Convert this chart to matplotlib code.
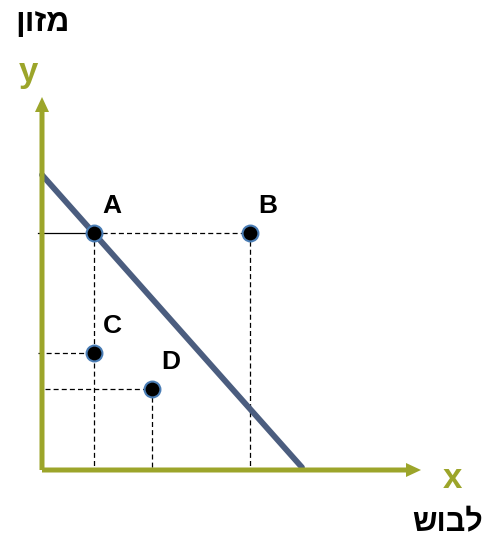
import matplotlib
matplotlib.use("Agg")
import matplotlib.pyplot as plt
from matplotlib.patches import FancyArrow

# Data (abstract units)
point_names = ["A", "B", "C", "D"]
point_x = [2.0, 8.0, 2.0, 4.25]
point_y = [9.1, 9.1, 4.5, 3.1]
budget_x = [0.0, 10.0]
budget_y = [11.35, 0.1]
y_label_text = "מזון"
x_label_text = "לבוש"

OLIVE = "#9ca52a"
LINE = "#4b5d7f"
FONT = ["Liberation Sans", "DejaVu Sans"]

fig = plt.figure(figsize=(4.89, 5.38), dpi=100)
ax = fig.add_axes([0, 0, 1, 1])
px = 26.0
ax.set_xlim(-42 / px, (489 - 42) / px)
ax.set_ylim(-(538 - 470) / px, 470 / px)
ax.axis("off")

# dashed guide lines
dash = dict(color="black", lw=0.9, ls=(0, (4, 2.5)), zorder=2)
xa, ya = point_x[0], point_y[0]
ax.plot([-0.15, xa], [ya, ya], color="black", lw=0.9, zorder=2)
ax.plot([xa, point_x[1]], [ya, point_y[1]], **dash)
ax.plot([xa, xa], [ya, 0], **dash)
ax.plot([point_x[1], point_x[1]], [point_y[1], 0], **dash)
ax.plot([-0.15, point_x[2]], [point_y[2], point_y[2]], **dash)
ax.plot([0.1, point_x[3]], [point_y[3], point_y[3]], **dash)
ax.plot([point_x[3], point_x[3]], [point_y[3], 0], **dash)

# budget line
ax.plot(budget_x, budget_y, color=LINE, lw=4.2, solid_capstyle="round", zorder=3)

# axes with arrows
ymax = (470 - 97) / px
xmax = (421 - 42) / px
hw = 14 / px
hl = 15 / px
ax.add_patch(FancyArrow(0, 0, 0, ymax, width=5 / px, head_width=hw, head_length=hl,
                        length_includes_head=True, color=OLIVE, lw=0, zorder=4))
ax.add_patch(FancyArrow(0, 0, xmax, 0, width=5 / px, head_width=hw, head_length=hl,
                        length_includes_head=True, color=OLIVE, lw=0, zorder=4))

# points
ax.scatter(point_x, point_y, s=130, color="black", edgecolors="#4a7db5",
           linewidths=1.5, zorder=5)
for n, x, y in zip(point_names, point_x, point_y):
    ax.annotate(n, (x, y), xytext=(18, 27), textcoords="offset pixels",
                ha="center", va="center", fontsize=19, fontweight="bold",
                family=FONT, color="black", zorder=6)

# axis letters
fig.text(28 / 489, 1 - 73 / 538, "y", color=OLIVE, fontsize=25, fontweight="bold",
         ha="center", va="center", family=FONT)
fig.text(452 / 489, 1 - 478 / 538, "x", color=OLIVE, fontsize=25, fontweight="bold",
         ha="center", va="center", family=FONT)

# Hebrew labels (reversed for visual RTL order)
fig.text(42 / 489, 1 - 23 / 538, y_label_text[::-1], color="black", fontsize=23,
         fontweight="bold", ha="center", va="center", family=FONT)
fig.text(448 / 489, 1 - 523 / 538, x_label_text[::-1], color="black", fontsize=22,
         fontweight="bold", ha="center", va="center", family=FONT)

fig.savefig("out.png", dpi=100)
